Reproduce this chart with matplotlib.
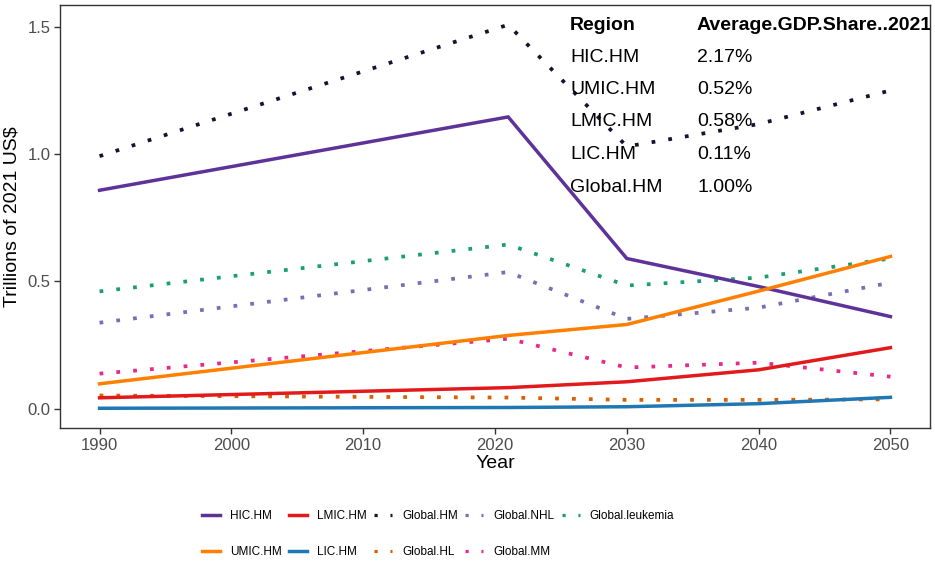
import numpy as np
import matplotlib.pyplot as plt
from matplotlib.lines import Line2D

plt.rcParams['font.family'] = ['Liberation Sans', 'DejaVu Sans']

# Data
years = [1990, 2021, 2030, 2040, 2050]

hic_hm = [0.858, 1.146, 0.590, 0.480, 0.362]
umic_hm = [0.098, 0.288, 0.331, 0.462, 0.598]
lmic_hm = [0.043, 0.083, 0.106, 0.153, 0.240]
lic_hm = [0.002, 0.005, 0.008, 0.020, 0.045]
global_hm = [0.992, 1.508, 1.030, 1.118, 1.250]
global_hl = [0.052, 0.044, 0.035, 0.035, 0.037]
global_nhl = [0.338, 0.537, 0.353, 0.397, 0.495]
global_mm = [0.138, 0.275, 0.162, 0.181, 0.126]
global_leuk = [0.461, 0.645, 0.484, 0.515, 0.590]

table_regions = ['HIC.HM', 'UMIC.HM', 'LMIC.HM', 'LIC.HM', 'Global.HM']
table_shares = ['2.17%', '0.52%', '0.58%', '0.11%', '1.00%']

# name, values, colour, solid?
series = [
    ('HIC.HM', hic_hm, '#5E3399', True),
    ('UMIC.HM', umic_hm, '#FF7F00', True),
    ('LMIC.HM', lmic_hm, '#E31A1C', True),
    ('LIC.HM', lic_hm, '#1F78B4', True),
    ('Global.HM', global_hm, '#1A1030', False),
    ('Global.HL', global_hl, '#D95F02', False),
    ('Global.NHL', global_nhl, '#7570B3', False),
    ('Global.MM', global_mm, '#E7298A', False),
    ('Global.leukemia', global_leuk, '#1B9E77', False),
]

fig = plt.figure(figsize=(9.35, 5.62), dpi=100)
ax = fig.add_axes([60 / 935, 1 - 428 / 562, 870 / 935, 423 / 562])

handles = {}
for name, vals, col, solid in series:
    if solid:
        ax.plot(years, vals, color=col, lw=2.5, solid_joinstyle='miter', zorder=3)
        handles[name] = Line2D([], [], color=col, lw=2.5)
    else:
        ax.plot(years, vals, color=col, lw=2.7, linestyle=(0, (1, 3.5)), zorder=2)
        handles[name] = Line2D([], [], color=col, lw=2.3, linestyle=(0, (1, 4)))

ax.set_xlim(1987, 2053)
ax.set_ylim(-0.0755, 1.5855)
ax.set_xticks([1990, 2000, 2010, 2020, 2030, 2040, 2050])
ax.set_yticks([0.0, 0.5, 1.0, 1.5])
ax.set_yticklabels(['0.0', '0.5', '1.0', '1.5'])
ax.tick_params(colors='#333333', labelcolor='#4D4D4D', labelsize=12, length=4, width=1, pad=3)
for sp in ax.spines.values():
    sp.set_color('#333333')
    sp.set_linewidth(1)

ax.set_xlabel('Year', fontsize=14, labelpad=2)
ax.set_ylabel(r'Trillions of 2021 US\$', fontsize=14, labelpad=5)

# Inset table in the top right corner
def fx(px):
    return (px - 60) / 870

def fy(py):
    return (428 - py) / 423

ax.text(fx(570), fy(25), 'Region', fontsize=14, fontweight='bold', va='center',
        transform=ax.transAxes, clip_on=True)
ax.text(fx(697), fy(25), 'Average.GDP.Share..2021', fontsize=14, fontweight='bold',
        va='center', transform=ax.transAxes, clip_on=True)
for i, (reg, sh) in enumerate(zip(table_regions, table_shares)):
    yy = 57 + i * 32.5
    ax.text(fx(570), fy(yy), reg, fontsize=14, va='center', transform=ax.transAxes)
    ax.text(fx(697), fy(yy), sh, fontsize=14, va='center', transform=ax.transAxes)

order = ['HIC.HM', 'UMIC.HM', 'LMIC.HM', 'LIC.HM', 'Global.HM', 'Global.HL',
         'Global.NHL', 'Global.MM', 'Global.leukemia']
fig.legend([handles[n] for n in order], order, ncol=5, loc='center',
           bbox_to_anchor=(438 / 935, 1 - 534 / 562), frameon=False, fontsize=8.5,
           handlelength=1.5, handletextpad=0.85, columnspacing=0.65, labelspacing=2.0)

fig.savefig('out.png', dpi=100)
